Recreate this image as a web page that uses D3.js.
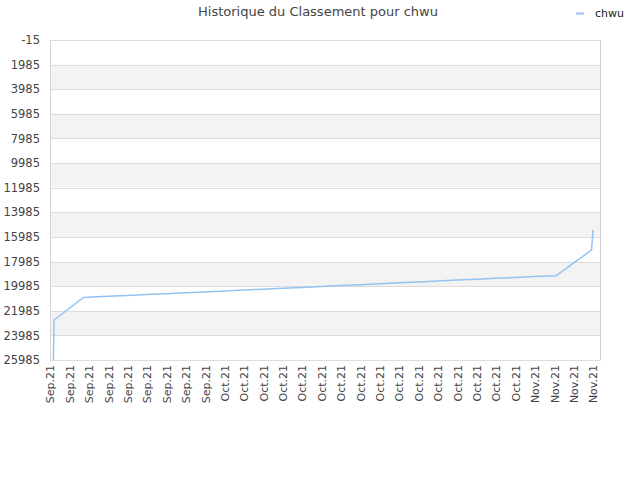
<!DOCTYPE html>
<html>
<head>
<meta charset="utf-8">
<script src="https://cdn.jsdelivr.net/npm/d3@7"></script>
<style>
  body { margin: 0; background: #fff; }
  text { font-family: "DejaVu Sans", sans-serif; }
</style>
</head>
<body>
<div id="chart"></div>
<script>
// days counted from the first tick (every tick = 2 days)
var tickLabels = ["Sep.21","Sep.21","Sep.21","Sep.21","Sep.21","Sep.21","Sep.21","Sep.21","Sep.21",
  "Oct.21","Oct.21","Oct.21","Oct.21","Oct.21","Oct.21","Oct.21","Oct.21",
  "Oct.21","Oct.21","Oct.21","Oct.21","Oct.21","Oct.21","Oct.21","Oct.21",
  "Nov.21","Nov.21","Nov.21","Nov.21"];
var tickDays = tickLabels.map(function (d, i) { return i * 2; });
var yTicks = [-15, 1985, 3985, 5985, 7985, 9985, 11985, 13985, 15985, 17985, 19985, 21985, 23985, 25985];

var days  = [0.35, 0.42, 3.45, 6, 8, 10, 12, 14, 16, 18, 20, 22, 24, 26, 28, 30, 32, 34, 36, 38, 40, 42, 44, 46, 48, 50, 52.2, 55.85, 56.0];
var ranks = [25985, 22735, 20900, 20815, 20745, 20670, 20600, 20525, 20450, 20375, 20305, 20230, 20155, 20085, 20010, 19935, 19865, 19790, 19715, 19640, 19570, 19495, 19420, 19350, 19275, 19200, 19135, 17045, 15420];

var seriesName = "chwu";
var title = "Historique du Classement pour chwu";

var W = 640, H = 480;
var mLeft = 50, mRight = 600, mTop = 40, mBottom = 360;

var svg = d3.select("#chart").append("svg").attr("width", W).attr("height", H);

var x = d3.scaleLinear().domain([0, 56.72]).range([mLeft, mRight]);
var y = d3.scaleLinear().domain([-15, 25985]).range([mTop, mBottom]);

// alternating bands
var bands = d3.range(yTicks.length - 1);
svg.selectAll("rect.band").data(bands).enter().append("rect")
  .attr("x", mLeft).attr("width", mRight - mLeft)
  .attr("y", function (i) { return y(yTicks[i]); })
  .attr("height", function (i) { return y(yTicks[i + 1]) - y(yTicks[i]); })
  .attr("fill", function (i) { return i % 2 ? "#f3f3f3" : "#fff"; });

// grid lines
svg.selectAll("line.grid").data(yTicks).enter().append("line")
  .attr("x1", mLeft).attr("x2", mRight)
  .attr("y1", function (d) { return Math.round(y(d)) + 0.5; })
  .attr("y2", function (d) { return Math.round(y(d)) + 0.5; })
  .attr("stroke", "#dcdcdc").attr("stroke-width", 1);

// frame left / right
svg.append("line").attr("x1", mLeft + 0.5).attr("x2", mLeft + 0.5).attr("y1", mTop).attr("y2", mBottom + 0.5).attr("stroke", "#d4d4d4");
svg.append("line").attr("x1", mRight + 0.5).attr("x2", mRight + 0.5).attr("y1", mTop).attr("y2", mBottom + 0.5).attr("stroke", "#d4d4d4");

// y axis
var yAxis = d3.axisLeft(y).tickValues(yTicks).tickSize(0).tickPadding(10).tickFormat(function (d) { return String(d); });
var gy = svg.append("g").attr("transform", "translate(" + mLeft + ",0)").call(yAxis);
gy.select(".domain").remove();
gy.selectAll("text").attr("font-size", 11.5).attr("fill", "#444").attr("font-family", "DejaVu Sans, sans-serif");

// x axis
var xAxis = d3.axisBottom(x).tickValues(tickDays).tickSize(0).tickFormat(function (d, i) { return tickLabels[i]; });
var gx = svg.append("g").attr("transform", "translate(0," + mBottom + ")").call(xAxis);
gx.select(".domain").remove();
gx.selectAll("text")
  .attr("font-size", 11).attr("fill", "#444").attr("font-family", "DejaVu Sans, sans-serif")
  .attr("text-anchor", "end").attr("dy", "0.35em")
  .attr("transform", "translate(0,5) rotate(-90)").attr("x", 0).attr("y", 0);

// line
var pts = days.map(function (d, i) { return [d, ranks[i]]; });
var line = d3.line().x(function (d) { return x(d[0]); }).y(function (d) { return y(d[1]); });
svg.append("path").datum(pts).attr("d", line)
  .attr("fill", "none").attr("stroke", "#92c4f3").attr("stroke-width", 1.5);

// title
svg.append("text").attr("x", 318).attr("y", 16).attr("text-anchor", "middle")
  .attr("font-size", 13).attr("fill", "#444").text(title);

// legend
svg.append("line").attr("x1", 576).attr("x2", 584).attr("y1", 13.5).attr("y2", 13.5)
  .attr("stroke", "#92c4f3").attr("stroke-width", 2);
svg.append("text").attr("x", 595).attr("y", 17).attr("font-size", 11).attr("fill", "#222").text(seriesName);
</script>
</body>
</html>
